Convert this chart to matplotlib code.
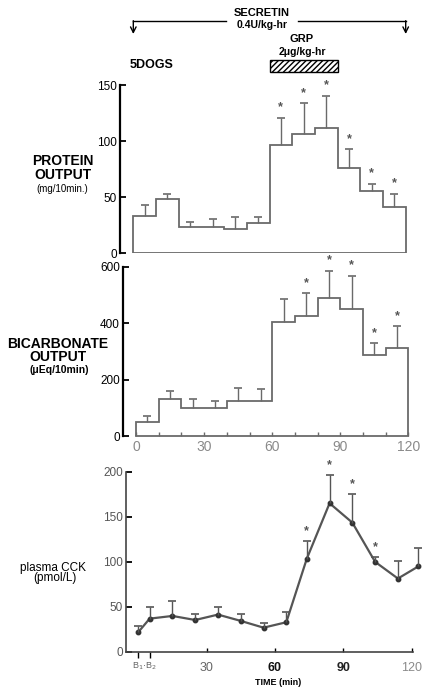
import numpy as np
import matplotlib
matplotlib.use("Agg")
import matplotlib.pyplot as plt
from matplotlib import transforms
from matplotlib.patches import Rectangle

plt.rcParams['font.family'] = ['Liberation Sans', 'DejaVu Sans']
plt.rcParams['hatch.linewidth'] = 1.0

# ---------------- data ----------------
PERIOD_EDGES = [0, 10, 20, 30, 40, 50, 60, 70, 80, 90, 100, 110, 120]
PERIOD_MID = [5, 15, 25, 35, 45, 55, 65, 75, 85, 95, 105, 115]

protein_mean = [33, 48, 23, 23, 22, 27, 96.5, 106.5, 112, 76, 55.5, 41]
protein_sem = [10, 5, 5, 8, 10.5, 5.5, 24.5, 27.5, 28.5, 17, 6.5, 12]
protein_sig = [False, False, False, False, False, False, True, True, True, True, True, True]

bicarb_mean = [50, 131, 101, 101, 125, 125, 406, 427, 488, 451, 289, 312]
bicarb_sem = [21, 31, 32, 24, 47, 43, 80, 79, 98, 117, 40, 77]
bicarb_sig = [False, False, False, False, False, False, False, True, True, True, True, True]

cck_time = [0, 5, 15, 25, 35, 45, 55, 65, 74, 84, 94, 104, 114, 123]
cck_mean = [22, 37, 40, 35.5, 41.5, 34.5, 27, 33, 103.5, 165, 143.5, 100, 81.5, 95]
cck_sem = [7, 13, 17, 6.5, 8.5, 8, 5.5, 11, 19.5, 31, 31.5, 5.5, 19.5, 20.5]
cck_sig = [False, False, False, False, False, False, False, False, True, True, True, True, False, False]

protein_ticks = [0, 50, 100, 150]
bicarb_ticks = [0, 200, 400, 600]
cck_ticks = [0, 50, 100, 150, 200]
time_ticks = [0, 30, 60, 90, 120]
cck_time_ticks = [30, 60, 90, 120]
basal_ticks = [0, 5]

SECRETIN_PERIOD = (0, 120)
GRP_PERIOD = (60, 90)

# ---------------- figure ----------------
W, H = 428, 690
fig = plt.figure(figsize=(W / 100, H / 100), dpi=100)


def fy(px):
    return 1 - px / H


def rect(left, top, right, bottom):
    return [left / W, 1 - bottom / H, (right - left) / W, (bottom - top) / H]


HIST_C = '#6a6a6a'
SPINE_LW = 1.6


def style_left(ax, bounds, ticks):
    for s in ('top', 'right', 'bottom'):
        ax.spines[s].set_visible(False)
    ax.spines['left'].set_bounds(*bounds)
    ax.spines['left'].set_linewidth(SPINE_LW)
    ax.set_yticks(ticks)
    ax.tick_params(axis='y', direction='in', length=4, width=1.3, pad=2,
                   labelsize=8.5)


def errs(ax, x, mean, sem, sig, color, capw=6):
    top = np.array(mean) + np.array(sem)
    ax.vlines(x, mean, top, color=color, lw=1.0, clip_on=False)
    ax.plot(x, top, ls='none', marker='_', ms=capw, mew=1.2, color=color,
            clip_on=False)
    for xi, ti, s in zip(x, top, sig):
        if s:
            ax.annotate('*', (xi, ti), xytext=(0, 3), textcoords='offset points',
                        ha='center', va='bottom', fontsize=9, color='#555555',
                        fontweight='bold', annotation_clip=False)


# ---- Protein ----
ax1 = fig.add_axes(rect(120, 85, 420, 253.3))
ax1.set_xlim(-5.86, 126.3)
ax1.set_ylim(0, 150)
style_left(ax1, (0, 150), protein_ticks)
ax1.set_xticks([])
ax1.stairs(protein_mean, PERIOD_EDGES, baseline=0, color=HIST_C, lw=1.3)
ax1.hlines(0, PERIOD_EDGES[0], PERIOD_EDGES[-1], color=HIST_C, lw=1.3)
errs(ax1, PERIOD_MID, protein_mean, protein_sem, protein_sig, HIST_C)

# ---- Bicarbonate ----
ax2 = fig.add_axes(rect(122.7, 266.7, 420, 436.3))
ax2.set_xlim(-5.86, 125.1)
ax2.set_ylim(0, 600)
style_left(ax2, (0, 600), bicarb_ticks)
ax2.spines['bottom'].set_visible(True)
ax2.spines['bottom'].set_bounds(0, 120)
ax2.spines['bottom'].set_color(HIST_C)
ax2.spines['bottom'].set_linewidth(1.3)
ax2.set_xticks(time_ticks)
ax2.set_xticks(PERIOD_EDGES, minor=True)
ax2.tick_params(axis='x', which='both', direction='in', length=3, width=1,
                color=HIST_C, labelsize=10, labelcolor='#8a8a8a', pad=3)
ax2.stairs(bicarb_mean, PERIOD_EDGES, baseline=0, color=HIST_C, lw=1.3)
errs(ax2, PERIOD_MID, bicarb_mean, bicarb_sem, bicarb_sig, HIST_C)

# ---- Plasma CCK ----
ax3 = fig.add_axes(rect(125.5, 471.7, 420, 652))
ax3.set_xlim(-5.6, 123.7)
ax3.set_ylim(0, 200)
style_left(ax3, (0, 200), cck_ticks)
ax3.spines['left'].set_linewidth(1.2)
ax3.spines['left'].set_color('#444444')
ax3.tick_params(axis='y', labelcolor='#555555', labelsize=8.5)
ax3.spines['bottom'].set_visible(True)
ax3.spines['bottom'].set_bounds(-5.6, 120.5)
ax3.spines['bottom'].set_color('#444444')
ax3.spines['bottom'].set_linewidth(1.2)
ax3.set_xticks(cck_time_ticks)
ax3.set_xticks(basal_ticks, minor=True)
ax3.tick_params(axis='x', which='major', direction='in', length=3, width=1,
                labelsize=9, pad=7)
ax3.tick_params(axis='x', which='minor', direction='out', length=4, width=1)
lab_colors = ['#666666', '#111111', '#222222', '#8a8a8a']
for lab, c in zip(ax3.get_xticklabels(), lab_colors):
    lab.set_color(c)
    if c in ('#111111', '#222222'):
        lab.set_fontweight('bold')
ax3.plot(cck_time, cck_mean, color='#555555', lw=1.6, marker='o', ms=3.2,
         mfc='#333333', mec='#333333', clip_on=False)
errs(ax3, cck_time, cck_mean, cck_sem, cck_sig, '#555555')
tr3 = transforms.blended_transform_factory(ax3.transData, fig.transFigure)
ax3.text(2.5, fy(666), 'B$_1$·B$_2$', transform=tr3, ha='center',
         va='center', fontsize=6.5, color='#666666')
fig.text(278 / W, fy(682.5), 'TIME (min)', ha='center', va='center',
         fontsize=6.5, fontweight='bold')

# ---- Left labels ----
fig.text(63 / W, fy(160.7), 'PROTEIN', ha='center', va='center', fontsize=10,
         fontweight='bold')
fig.text(63 / W, fy(175), 'OUTPUT', ha='center', va='center', fontsize=10,
         fontweight='bold')
fig.text(62 / W, fy(189), '(mg/10min.)', ha='center', va='center',
         fontsize=7)
fig.text(58 / W, fy(344.3), 'BICARBONATE', ha='center', va='center',
         fontsize=10, fontweight='bold')
fig.text(58 / W, fy(357.3), 'OUTPUT', ha='center', va='center', fontsize=10,
         fontweight='bold')
fig.text(59 / W, fy(370), '(μEq/10min)', ha='center', va='center',
         fontsize=7.5, fontweight='bold')
fig.text(53 / W, fy(568), 'plasma CCK', ha='center', va='center', fontsize=8.5)
fig.text(55 / W, fy(578.5), '(pmol/L)', ha='center', va='center', fontsize=8.5)
fig.text(152 / W, fy(65), '5DOGS', ha='center', va='center', fontsize=9,
         fontweight='bold')

# ---- Treatment header (x in protein data coords, y in figure) ----
tr = transforms.blended_transform_factory(ax1.transData, fig.transFigure)
y_line = fy(20.7)
ax1.plot([SECRETIN_PERIOD[0], 40.7], [y_line, y_line], transform=tr,
         color='black', lw=1.0, clip_on=False)
ax1.plot([72.6, SECRETIN_PERIOD[1]], [y_line, y_line], transform=tr,
         color='black', lw=1.0, clip_on=False)
for xe in SECRETIN_PERIOD:
    ax1.annotate('', xy=(xe, fy(34)), xytext=(xe, y_line), xycoords=tr,
                 textcoords=tr, annotation_clip=False,
                 arrowprops=dict(arrowstyle='->', lw=1.0, color='black',
                                 shrinkA=0, shrinkB=0))
ax1.text(56.6, fy(13), 'SECRETIN', transform=tr, ha='center', va='center',
         fontsize=8, fontweight='bold')
ax1.text(56.6, fy(25), '0.4U/kg-hr', transform=tr, ha='center', va='center',
         fontsize=7.5, fontweight='bold')
ax1.text(74.3, fy(39.5), 'GRP', transform=tr, ha='center', va='center',
         fontsize=8, fontweight='bold')
ax1.text(74.3, fy(52), '2μg/kg-hr', transform=tr, ha='center', va='center',
         fontsize=7.5, fontweight='bold')
ax1.add_patch(Rectangle((GRP_PERIOD[0], fy(71.7)), GRP_PERIOD[1] - GRP_PERIOD[0],
                        fy(60) - fy(71.7), transform=tr, facecolor='white',
                        edgecolor='black', hatch='//////', lw=1.0,
                        clip_on=False))

fig.savefig('out.png', dpi=100)
